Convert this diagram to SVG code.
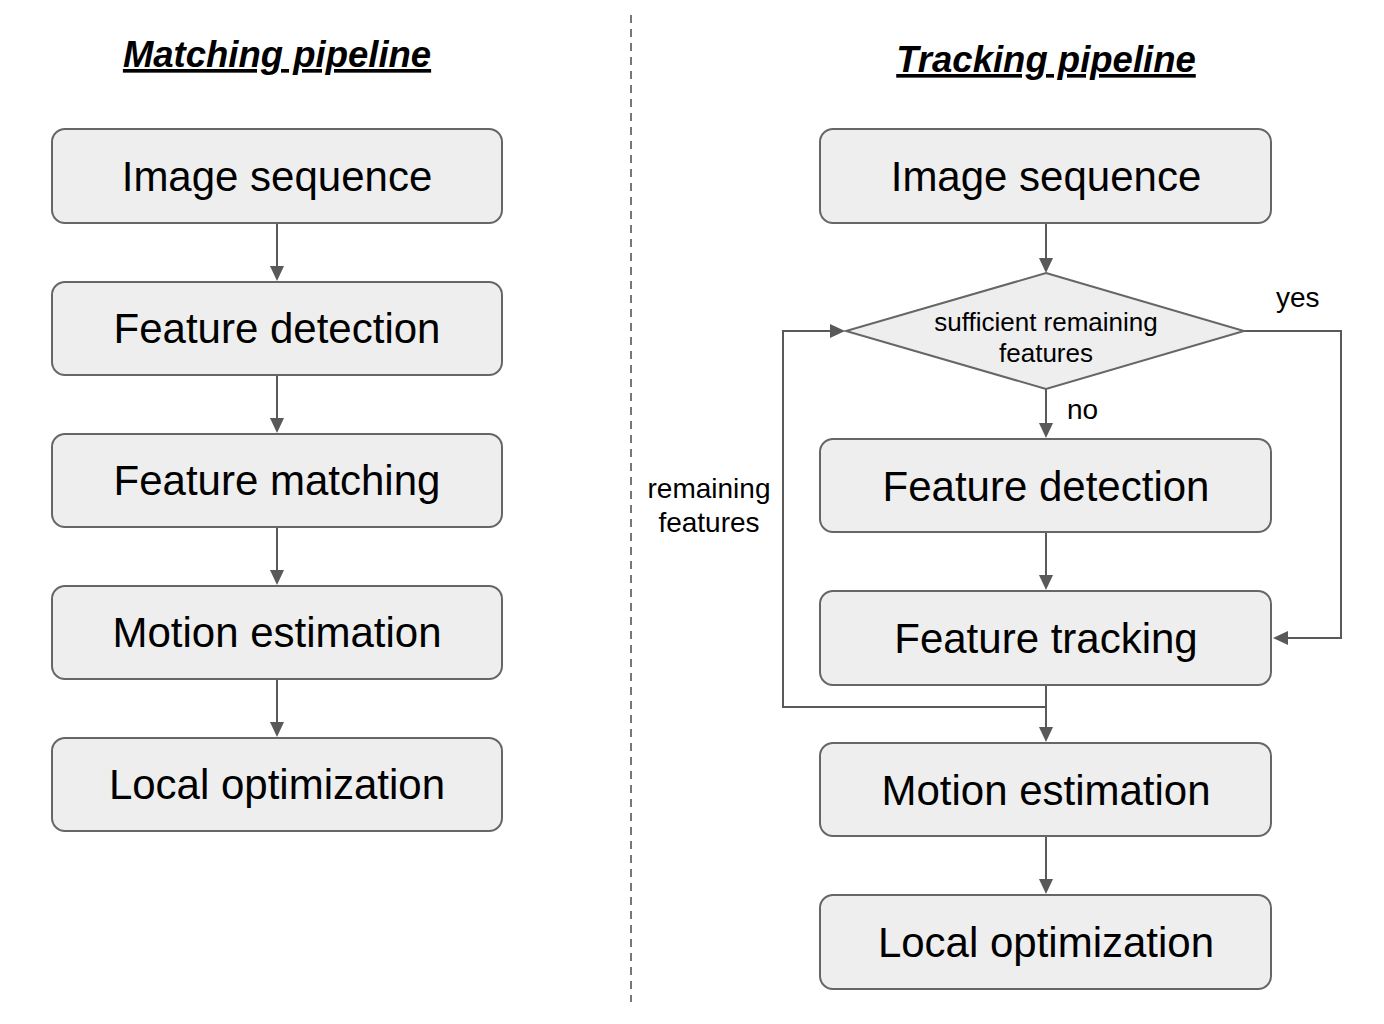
<svg xmlns="http://www.w3.org/2000/svg" width="1384" height="1024" viewBox="0 0 1384 1024">
<defs>
<style>
.box{fill:#eeeeee;stroke:#666666;stroke-width:2}
.lbl{font-family:"Liberation Sans",Arial,sans-serif;font-size:42px;fill:#000;text-anchor:middle}
.small{font-family:"Liberation Sans",Arial,sans-serif;font-size:28px;fill:#000}
.dia{font-family:"Liberation Sans",Arial,sans-serif;font-size:26px;fill:#000;text-anchor:middle}
.title{font-family:"Liberation Sans",Arial,sans-serif;font-size:36.5px;font-weight:bold;font-style:italic;text-decoration:underline;fill:#000;text-anchor:middle}
.conn{fill:none;stroke:#595959;stroke-width:2}
.head{fill:#595959}
</style>
</defs>
<rect width="1384" height="1024" fill="#ffffff"/>
<line x1="631" y1="15" x2="631" y2="1002" stroke="#777777" stroke-width="2" stroke-dasharray="8,6"/>
<text class="title" x="277" y="67">Matching pipeline</text>
<text class="title" x="1046" y="72">Tracking pipeline</text>

<g id="connectors">
<path d="M277,224 V266" class="conn"/><path d="M270,266 L284,266 L277,281 z" class="head"/>
<path d="M277,376 V418" class="conn"/><path d="M270,418 L284,418 L277,433 z" class="head"/>
<path d="M277,528 V570" class="conn"/><path d="M270,570 L284,570 L277,585 z" class="head"/>
<path d="M277,680 V722" class="conn"/><path d="M270,722 L284,722 L277,737 z" class="head"/>

<path d="M1046,224 V258" class="conn"/><path d="M1039,258 L1053,258 L1046,273 z" class="head"/>
<path d="M1046,389 V423" class="conn"/><path d="M1039,423 L1053,423 L1046,438 z" class="head"/>
<path d="M1046,533 V575" class="conn"/><path d="M1039,575 L1053,575 L1046,590 z" class="head"/>
<path d="M1046,686 V727" class="conn"/><path d="M1039,727 L1053,727 L1046,742 z" class="head"/>
<path d="M1046,837 V879" class="conn"/><path d="M1039,879 L1053,879 L1046,894 z" class="head"/>
<path d="M1244,331 H1341 V638 H1288" class="conn"/><path d="M1288,631 L1288,645 L1273,638 z" class="head"/>
<path d="M1046,707 H783 V331 H830" class="conn"/><path d="M830,324 L830,338 L845,331 z" class="head"/>
<text class="small" x="1276" y="307">yes</text>
<text class="small" x="1067" y="419">no</text>
<text class="small" x="709" y="498" text-anchor="middle">remaining</text>
<text class="small" x="709" y="532" text-anchor="middle">features</text>
</g>

<g id="m1"><rect class="box" x="52" y="129" width="450" height="94" rx="13"/><text class="lbl" x="277" y="191">Image sequence</text></g>
<g id="m2"><rect class="box" x="52" y="282" width="450" height="93" rx="13"/><text class="lbl" x="277" y="343">Feature detection</text></g>
<g id="m3"><rect class="box" x="52" y="434" width="450" height="93" rx="13"/><text class="lbl" x="277" y="495">Feature matching</text></g>
<g id="m4"><rect class="box" x="52" y="586" width="450" height="93" rx="13"/><text class="lbl" x="277" y="647">Motion estimation</text></g>
<g id="m5"><rect class="box" x="52" y="738" width="450" height="93" rx="13"/><text class="lbl" x="277" y="799">Local optimization</text></g>

<g id="t1"><rect class="box" x="820" y="129" width="451" height="94" rx="13"/><text class="lbl" x="1046" y="191">Image sequence</text></g>
<g id="t2"><polygon class="box" points="1046,273 1244,331 1046,389 846,331"/><text class="dia" x="1046" y="331">sufficient remaining</text><text class="dia" x="1046" y="362">features</text></g>
<g id="t3"><rect class="box" x="820" y="439" width="451" height="93" rx="13"/><text class="lbl" x="1046" y="501">Feature detection</text></g>
<g id="t4"><rect class="box" x="820" y="591" width="451" height="94" rx="13"/><text class="lbl" x="1046" y="653">Feature tracking</text></g>
<g id="t5"><rect class="box" x="820" y="743" width="451" height="93" rx="13"/><text class="lbl" x="1046" y="805">Motion estimation</text></g>
<g id="t6"><rect class="box" x="820" y="895" width="451" height="94" rx="13"/><text class="lbl" x="1046" y="957">Local optimization</text></g>
</svg>
